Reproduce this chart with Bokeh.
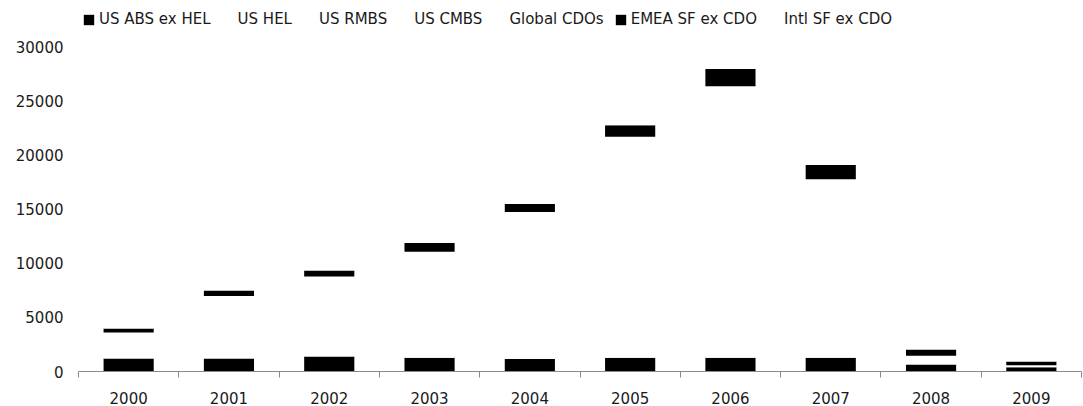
from bokeh.plotting import figure
from bokeh.models import ColumnDataSource, Legend, LegendItem, FixedTicker, Range1d
from bokeh.embed import file_html
from bokeh.resources import INLINE

years = ["2000", "2001", "2002", "2003", "2004", "2005", "2006", "2007", "2008", "2009"]
series = ["US ABS ex HEL", "US HEL", "US RMBS", "US CMBS", "Global CDOs", "EMEA SF ex CDO", "Intl SF ex CDO"]

us_abs_ex_hel = [1200, 1200, 1385, 1270, 1150, 1270, 1270, 1270, 650, 400]
us_hel = [700, 1700, 2300, 3100, 4800, 7500, 8900, 4700, 60, 10]
us_rmbs = [600, 1800, 2400, 3300, 3900, 5800, 7000, 5200, 250, 60]
us_cmbs = [500, 900, 1000, 1200, 1400, 1900, 2150, 1950, 170, 45]
global_cdos = [600, 1380, 1685, 2185, 3470, 5200, 7000, 4620, 320, 70]
emea_sf_ex_cdo = [370, 500, 550, 800, 740, 1050, 1600, 1320, 590, 340]
intl_sf_ex_cdo = [150, 200, 250, 300, 350, 450, 500, 400, 120, 80]

y_ticks = [0, 5000, 10000, 15000, 20000, 25000, 30000]

colors = ["#000000", "#ffffff", "#ffffff", "#ffffff", "#ffffff", "#000000", "#ffffff"]
keys = ["s%d" % i for i in range(len(series))]
values = [us_abs_ex_hel, us_hel, us_rmbs, us_cmbs, global_cdos, emea_sf_ex_cdo, intl_sf_ex_cdo]

xs = list(range(len(years)))
data = dict(x=xs)
for k, v in zip(keys, values):
    data[k] = v
src = ColumnDataSource(data)

FONT = "DejaVu Sans"
TXT = "#1a1a1a"

FRAME_H = 367
# keep 30000 at the same height as in the reference while leaving room for the legend inside the frame
y_end = FRAME_H * 30000 / 325

p = figure(frame_width=1003, frame_height=FRAME_H,
           x_range=Range1d(-0.5, len(years) - 0.5), y_range=Range1d(0, y_end),
           output_backend="svg", toolbar_location=None,
           min_border_left=78, min_border_right=2, min_border_top=4, min_border_bottom=28)

rs = p.vbar_stack(keys, x="x", width=0.5, fill_color=colors, line_color=None, source=src)

items = [LegendItem(label=n, renderers=[r]) for n, r in zip(series, rs)]
legend = Legend(items=items, orientation="horizontal", location=(4, 343),
                glyph_width=13, glyph_height=13, label_standoff=4, spacing=10,
                padding=0, margin=0, label_height=17,
                label_text_font=FONT, label_text_font_size="15px", label_text_color=TXT,
                border_line_alpha=0, background_fill_alpha=0)
p.add_layout(legend)

p.xgrid.visible = False
p.ygrid.visible = False
p.outline_line_color = None

xa = p.xaxis[0]
xa.ticker = FixedTicker(ticks=xs, minor_ticks=[i - 0.5 for i in range(len(years) + 1)])
xa.major_label_overrides = {i: y for i, y in enumerate(years)}
xa.major_tick_out = 0
xa.major_tick_in = 0
xa.minor_tick_out = 6
xa.minor_tick_in = 0
xa.minor_tick_line_color = "#8a8a8a"
xa.axis_line_color = "#8a8a8a"
xa.major_label_standoff = 14
xa.major_label_text_font = FONT
xa.major_label_text_font_size = "15px"
xa.major_label_text_color = TXT

ya = p.yaxis[0]
ya.ticker = FixedTicker(ticks=y_ticks)
ya.axis_line_color = None
ya.major_tick_line_color = None
ya.minor_tick_line_color = None
ya.major_tick_out = 0
ya.major_tick_in = 0
ya.major_label_standoff = 15
ya.major_label_text_font = FONT
ya.major_label_text_font_size = "15px"
ya.major_label_text_color = TXT

open("out.html", "w").write(file_html(p, INLINE))
